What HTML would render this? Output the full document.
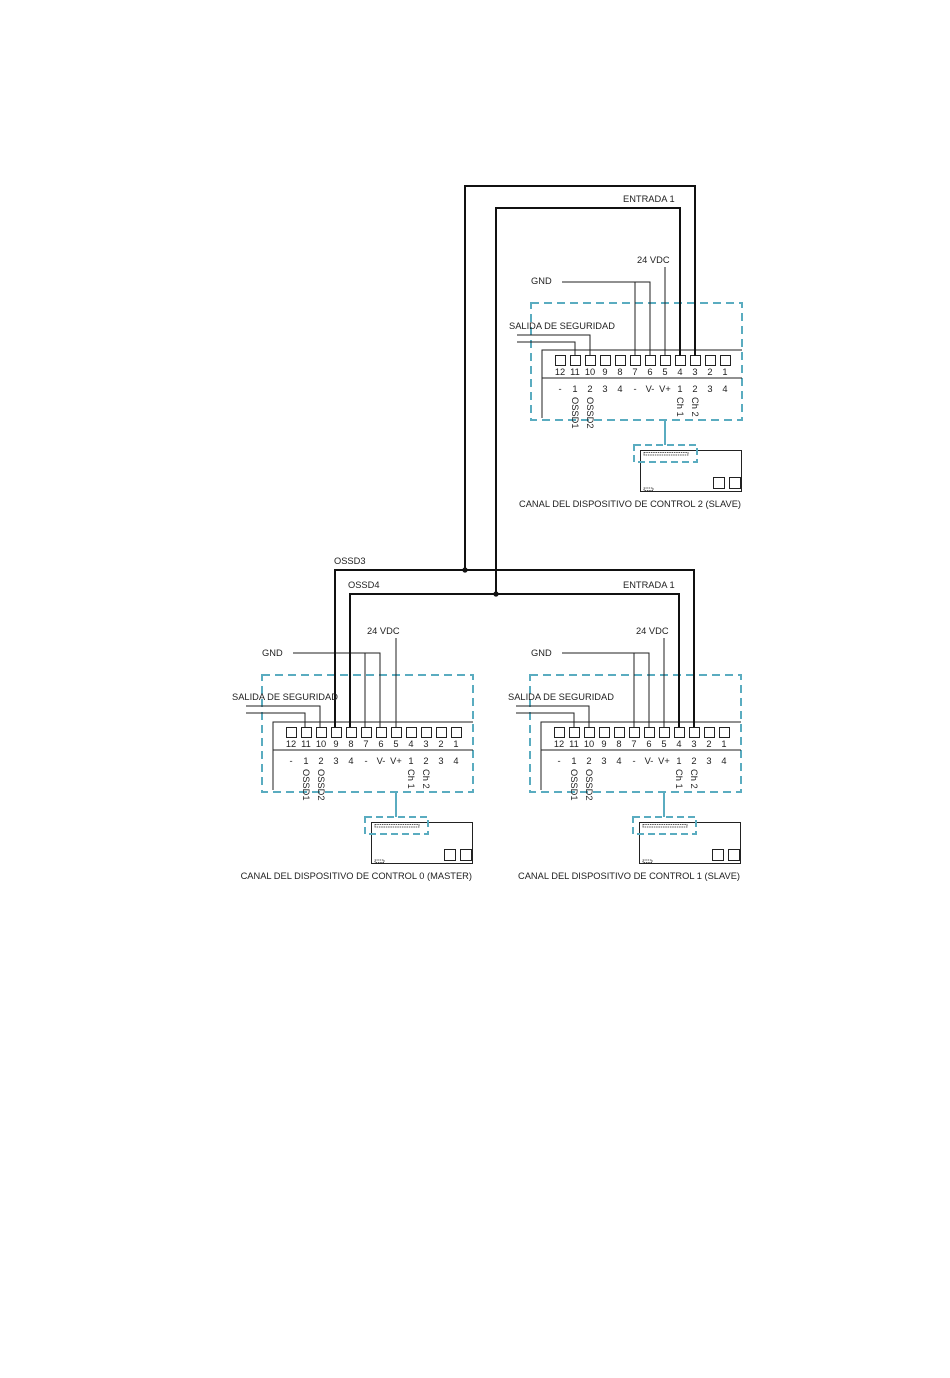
<!DOCTYPE html>
<html><head><meta charset="utf-8"><style>
html,body{margin:0;padding:0;background:#fff}
svg{display:block}
text{font-family:"Liberation Sans",Arial,sans-serif;font-size:9.3px;fill:#222}
</style></head><body>
<svg width="950" height="1378" viewBox="0 0 950 1378" xmlns="http://www.w3.org/2000/svg">
<defs>
<g id="blk">
  <rect x="531" y="303" width="211" height="117" fill="none" stroke="#5aacc0" stroke-width="2" stroke-dasharray="8,5"/>
  <path d="M742 350H542V418M542 378H742" fill="none" stroke="#222" stroke-width="1"/>
  <g fill="#fff" stroke="#222" stroke-width="1">
    <rect x="555.5" y="355.5" width="10" height="10"/><rect x="570.5" y="355.5" width="10" height="10"/>
    <rect x="585.5" y="355.5" width="10" height="10"/><rect x="600.5" y="355.5" width="10" height="10"/>
    <rect x="615.5" y="355.5" width="10" height="10"/><rect x="630.5" y="355.5" width="10" height="10"/>
    <rect x="645.5" y="355.5" width="10" height="10"/><rect x="660.5" y="355.5" width="10" height="10"/>
    <rect x="675.5" y="355.5" width="10" height="10"/><rect x="690.5" y="355.5" width="10" height="10"/>
    <rect x="705.5" y="355.5" width="10" height="10"/><rect x="720.5" y="355.5" width="10" height="10"/>
  </g>
  <g text-anchor="middle">
    <text x="560" y="375">12</text><text x="575" y="375">11</text><text x="590" y="375">10</text>
    <text x="605" y="375">9</text><text x="620" y="375">8</text><text x="635" y="375">7</text>
    <text x="650" y="375">6</text><text x="665" y="375">5</text><text x="680" y="375">4</text>
    <text x="695" y="375">3</text><text x="710" y="375">2</text><text x="725" y="375">1</text>
    <text x="560" y="392">-</text><text x="575" y="392">1</text><text x="590" y="392">2</text>
    <text x="605" y="392">3</text><text x="620" y="392">4</text><text x="635" y="392">-</text>
    <text x="650" y="392">V-</text><text x="665" y="392">V+</text><text x="680" y="392">1</text>
    <text x="695" y="392">2</text><text x="710" y="392">3</text><text x="725" y="392">4</text>
  </g>
  <text transform="translate(572,397) rotate(90)">OSSD1</text>
  <text transform="translate(587,397) rotate(90)">OSSD2</text>
  <text transform="translate(677,397) rotate(90)">Ch 1</text>
  <text transform="translate(692,397) rotate(90)">Ch 2</text>
  <path d="M665 421V445" stroke="#5aacc0" stroke-width="2"/>
  <rect x="640.5" y="450.5" width="101" height="41" fill="none" stroke="#222" stroke-width="1"/>
  <rect x="713.5" y="477.5" width="11" height="11" fill="none" stroke="#222" stroke-width="1"/>
  <rect x="729.5" y="477.5" width="11" height="11" fill="none" stroke="#222" stroke-width="1"/>
  <rect x="644" y="452.5" width="44" height="2.5" fill="none" stroke="#222" stroke-width="0.8" stroke-dasharray="1.5,0.8"/>
  <rect x="644" y="488" width="9" height="2.5" fill="none" stroke="#222" stroke-width="0.8" stroke-dasharray="1.5,0.8"/>
  <rect x="634" y="445" width="63" height="17" fill="none" stroke="#5aacc0" stroke-width="2" stroke-dasharray="7,4"/>
</g>
</defs>

<use href="#blk"/>
<use href="#blk" transform="translate(-269,372)"/>
<use href="#blk" transform="translate(-1,372)"/>

<g text-anchor="end">
<text x="741" y="507">CANAL DEL DISPOSITIVO DE CONTROL 2 (SLAVE)</text>
<text x="472" y="879">CANAL DEL DISPOSITIVO DE CONTROL 0 (MASTER)</text>
<text x="740" y="879">CANAL DEL DISPOSITIVO DE CONTROL 1 (SLAVE)</text>
</g>

<g fill="none" stroke="#222" stroke-width="1">
  <path d="M562 282H650V356M635 282V356M665 267V356"/>
  <path d="M517 335H590V356M517 342H575V356"/>
  <path d="M293 653H380V727M365 653V727M396 638V727"/>
  <path d="M246 706H320V727M246 713H305V727"/>
  <path d="M562 653H649V727M634 653V727M664 638V727"/>
  <path d="M516 706H589V727M516 713H574V727"/>
</g>

<g fill="none" stroke="#111" stroke-width="2">
  <path d="M465 570V186H695V356"/>
  <path d="M496 594V208H680V356"/>
  <path d="M335 727V570H694V727"/>
  <path d="M350 727V594H679V727"/>
</g>
<circle cx="465" cy="570" r="2.6" fill="#111"/>
<circle cx="496" cy="594" r="2.6" fill="#111"/>

<text x="623" y="202">ENTRADA 1</text>
<text x="637" y="263">24 VDC</text>
<text x="531" y="284">GND</text>
<text x="509" y="329">SALIDA DE SEGURIDAD</text>
<text x="334" y="564">OSSD3</text>
<text x="348" y="588">OSSD4</text>
<text x="623" y="588">ENTRADA 1</text>
<text x="367" y="634">24 VDC</text>
<text x="262" y="656">GND</text>
<text x="232" y="700">SALIDA DE SEGURIDAD</text>
<text x="636" y="634">24 VDC</text>
<text x="531" y="656">GND</text>
<text x="508" y="700">SALIDA DE SEGURIDAD</text>
</svg>
</body></html>
